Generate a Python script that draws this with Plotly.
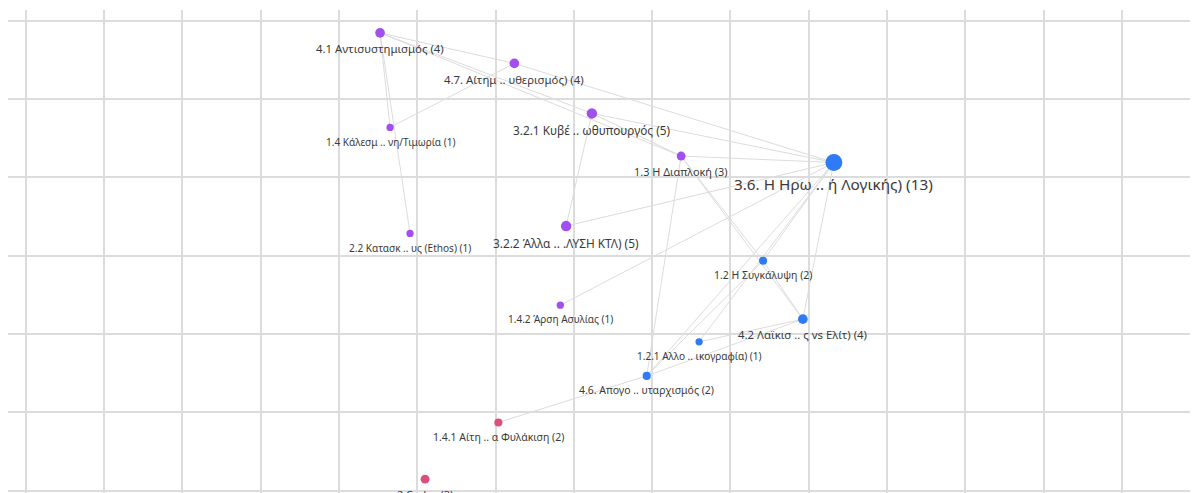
import plotly.graph_objects as go

# nodes: label, code count, community, position in grid units (grid cell = 1)
labels = [
    "4.1 Αντισυστημισμός (4)",
    "4.7. Αίτημ .. υθερισμός) (4)",
    "3.2.1 Κυβέ .. ωθυπουργός (5)",
    "1.4 Κάλεσμ .. νη/Τιμωρία (1)",
    "1.3 Η Διαπλοκή (3)",
    "3.6. Η Ηρω .. ή Λογικής) (13)",
    "2.2 Κατασκ .. υς (Ethos) (1)",
    "3.2.2 Άλλα .. .ΛΥΣΗ ΚΤΛ) (5)",
    "1.2 Η Συγκάλυψη (2)",
    "1.4.2 Άρση Ασυλίας (1)",
    "4.2 Λαϊκισ .. ς vs Ελίτ) (4)",
    "1.2.1 Αλλο .. ικογραφία) (1)",
    "4.6. Απογο .. υταρχισμός (2)",
    "1.4.1 Αίτη .. α Φυλάκιση (2)",
    "2 Codes (3)",
]
counts = [4, 4, 5, 1, 3, 13, 1, 5, 2, 1, 4, 1, 2, 2, 3]
group = [0, 0, 0, 0, 0, 1, 0, 0, 1, 0, 1, 1, 1, 2, 2]
node_x = [4.525, 6.240, 7.230, 4.653, 8.370, 10.32, 4.908, 6.901, 9.416, 6.827, 9.924, 8.599, 7.930, 6.036, 5.100]
node_y = [0.155, 0.545, 1.183, 1.362, 1.728, 1.810, 2.716, 2.622, 3.065, 3.632, 3.810, 4.100, 4.535, 5.129, 5.853]

edges = [
    (0, 1), (0, 2), (0, 4), (0, 3), (0, 6),
    (1, 5), (1, 3),
    (2, 7), (2, 5), (2, 4),
    (4, 5), (4, 8), (4, 12), (4, 10),
    (7, 5), (9, 5),
    (5, 8), (5, 11), (5, 12), (5, 10),
    (8, 10), (8, 12),
    (11, 10), (12, 10), (12, 13),
]

group_colors = ["#a24ff0", "#2f7bf5", "#dc4f7b"]

ex, ey = [], []
for a, b in edges:
    ex += [node_x[a], node_x[b], None]
    ey += [node_y[a], node_y[b], None]

fig = go.Figure()
fig.add_trace(go.Scatter(x=ex, y=ey, mode="lines",
                         line=dict(color="#dcdcdc", width=1),
                         hoverinfo="skip", showlegend=False))

sizes = [6.5 + 0.8 * c for c in counts]
font_sizes = [9.6 + 0.44 * c for c in counts]

fig.add_trace(go.Scatter(
    x=node_x, y=node_y, mode="markers",
    marker=dict(size=sizes, color=[group_colors[g] for g in group],
                opacity=1, line=dict(width=0)),
    hovertext=labels, hoverinfo="text", showlegend=False,
))

# labels under the nodes
for i in range(len(labels)):
    fig.add_annotation(x=node_x[i], y=node_y[i], text=labels[i], showarrow=False,
                       xanchor="center", yanchor="top", yshift=-(sizes[i] / 2 + 1.5),
                       font=dict(size=font_sizes[i], color="#3a3a3a", family="Noto Sans"))

fig.update_layout(
    width=1190, height=485,
    margin=dict(l=0, r=0, t=2, b=0),
    paper_bgcolor="white", plot_bgcolor="white",
    font=dict(family="Noto Sans"),
    xaxis=dict(range=[-0.226, 14.97], tick0=0, dtick=1, showgrid=True,
               gridcolor="#dcdcdc", gridwidth=1.5, zeroline=False,
               showticklabels=False, showline=False, fixedrange=True),
    yaxis=dict(range=[6.03, -0.137], tick0=0, dtick=1, showgrid=True,
               gridcolor="#dcdcdc", gridwidth=1.5, zeroline=False,
               showticklabels=False, showline=False, fixedrange=True),
)

fig.write_html("out.html", config={"displayModeBar": False})
